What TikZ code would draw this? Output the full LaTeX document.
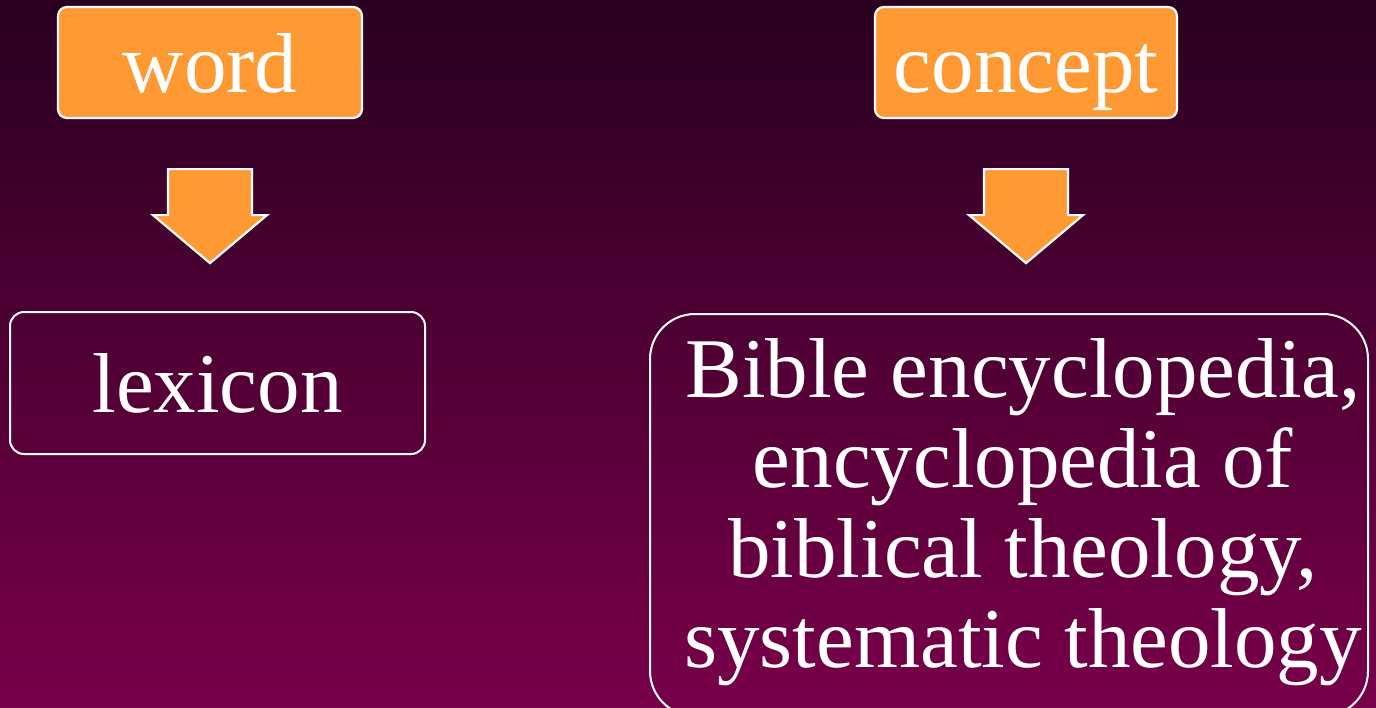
\documentclass[tikz,border=0pt]{standalone}
\usepackage{fontspec}
\setmainfont{Liberation Serif}
\usetikzlibrary{calc}
\definecolor{bgtop}{HTML}{2A0020}
\definecolor{bgbot}{HTML}{780049}
\definecolor{orng}{HTML}{FF9933}
\tikzset{
  big/.style={font=\fontsize{85}{90}\selectfont, text=white},
  orangebox/.style={big, draw=white, line width=2.2pt, fill=orng, rounded corners=9pt,
    inner sep=0pt, text height=85pt, text depth=26pt, anchor=base},
  outlinebox/.style={big, draw=white, line width=2pt, rounded corners=14pt,
    inner sep=0pt, anchor=base},
  blockarrow/.style={draw=white, line width=2.2pt, fill=orng, line join=miter},
}
\begin{document}
\begin{tikzpicture}[x=1pt,y=-1pt]
\useasboundingbox (0,0) rectangle (1376,707);
\shade[top color=bgtop, bottom color=bgbot] (0,0) rectangle (1376,707);
\begin{scope}
\clip (0,0) rectangle (1376,707);
% top boxes
\node[orangebox, minimum width=304pt] (word) at (210,92) {word};
\node[orangebox, minimum width=302pt] (concept) at (1026,92) {concept};
% left result
\node[outlinebox, minimum width=415pt, text height=100pt, text depth=42pt] (lexicon) at (217.5,412) {lexicon};
% right result box
\node[draw=white, line width=2pt, rounded corners=45pt, minimum width=718pt, minimum height=402pt, anchor=north, inner sep=0pt] (refbox) at (1009,313) {};
\node[big, align=center, inner sep=0pt, anchor=north] (refs) at (1023,338)
  {Bible encyclopedia,\\ encyclopedia of\\ biblical theology,\\ systematic theology};
% block arrows
\foreach \src in {word,concept}{
  \draw[blockarrow] ($(\src.south)+(-42,50)$) -- ($(\src.south)+(42,50)$) -- ($(\src.south)+(42,96)$)
    -- ($(\src.south)+(57,96)$) -- ($(\src.south)+(0,144)$) -- ($(\src.south)+(-57,96)$)
    -- ($(\src.south)+(-42,96)$) -- cycle;
}
\end{scope}
\end{tikzpicture}
\end{document}
